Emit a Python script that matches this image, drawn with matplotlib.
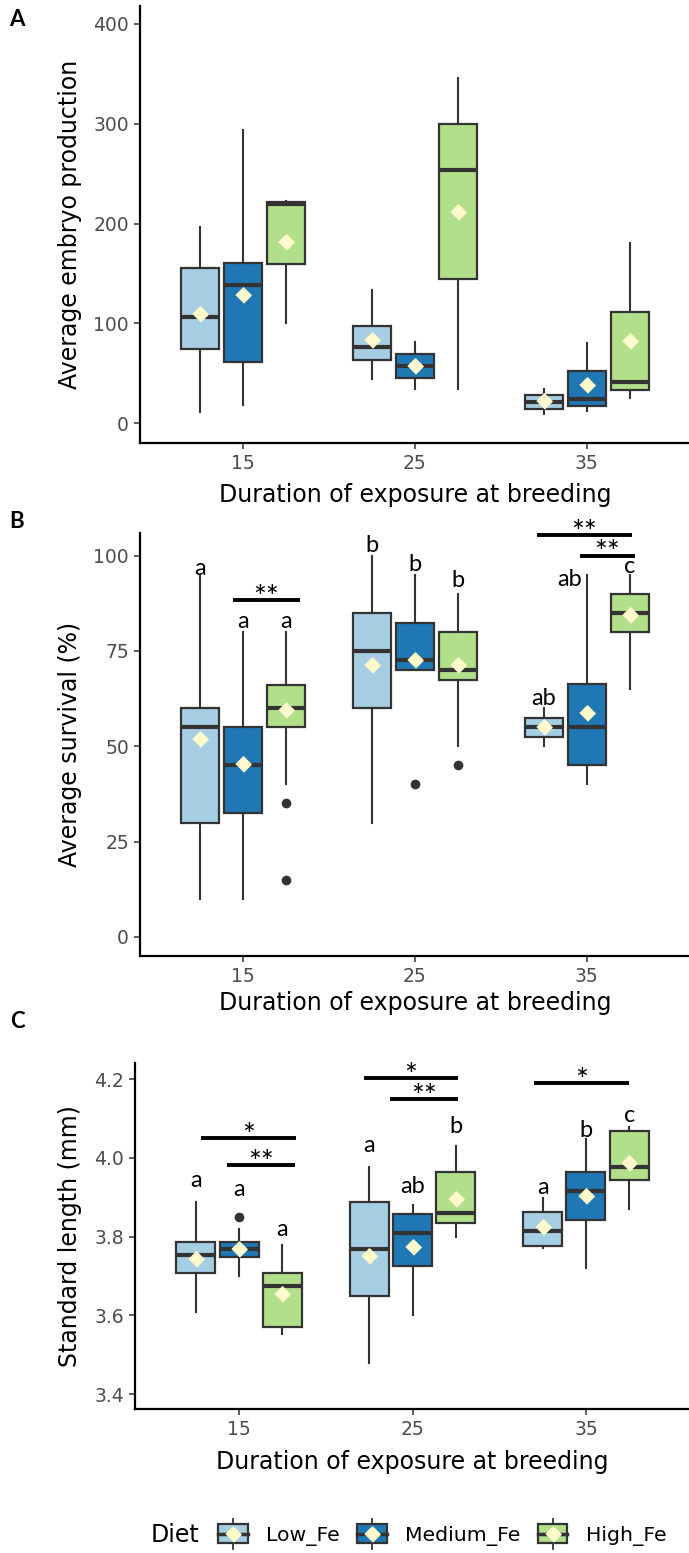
import matplotlib.pyplot as plt
from matplotlib.legend_handler import HandlerBase
from matplotlib.patches import Patch, Rectangle
from matplotlib.lines import Line2D

# ---- data (rows: diet, columns: duration 15 / 25 / 35) ----
durations = ["15", "25", "35"]
diets = ["Low_Fe", "Medium_Fe", "High_Fe"]

# A: average embryo production
embryo_lo = [[11, 44, 9.4], [18, 34, 11.7], [100, 34.5, 25]]
embryo_q1 = [[74, 62.7, 14.4], [61, 45, 17], [159.6, 144, 33]]
embryo_med = [[106, 76.5, 21], [138, 57, 24], [220, 254, 41]]
embryo_q3 = [[155, 97, 28.5], [160, 69, 52], [221.5, 300, 111]]
embryo_hi = [[196.5, 133.5, 34.5], [294, 81, 80], [223, 345.7, 180]]
embryo_mean = [[109, 83, 22], [128, 57, 38.6], [181, 211.6, 82]]
embryo_out = [[[], [], []], [[], [], []], [[], [], []]]

# B: average survival (%)
surv_lo = [[10, 30, 50], [10, 70, 40], [40, 50, 65]]
surv_q1 = [[30, 60, 52.4], [32.4, 70, 45], [55, 67.4, 80]]
surv_med = [[55, 75, 55], [45, 72.5, 55], [60, 70, 85]]
surv_q3 = [[60, 85, 57.4], [55, 82.4, 66.3], [66, 80, 90]]
surv_hi = [[95, 100, 60], [80, 95, 95], [80, 90, 95]]
surv_mean = [[52, 71.4, 55], [45.3, 72.5, 58.7], [59.5, 71.4, 84.4]]
surv_out = [[[], [], []], [[], [40], []], [[35, 15], [45], []]]
surv_letters = [["a", "b", "ab"], ["a", "b", "ab"], ["a", "b", "c"]]
surv_letter_y = [[94.9, 100.8, 60.8], [80.9, 96, 92], [80.9, 91.7, 95.4]]
surv_letter_dx = [[0, 0, 0], [0, 0, -0.1], [0, 0, 0]]
surv_brackets = [(-0.06, 0.33, 88.3, "**"), (1.71, 2.26, 105.4, "**"), (1.96, 2.28, 100.0, "**")]

# C: standard length (mm)
len_lo = [[3.609, 3.48, 3.770], [3.70, 3.60, 3.719], [3.552, 3.80, 3.869]]
len_q1 = [[3.708, 3.649, 3.775], [3.748, 3.726, 3.843], [3.571, 3.834, 3.943]]
len_med = [[3.754, 3.769, 3.814], [3.769, 3.809, 3.915], [3.675, 3.859, 3.977]]
len_q3 = [[3.785, 3.889, 3.863], [3.787, 3.858, 3.965], [3.708, 3.964, 4.067]]
len_hi = [[3.889, 3.978, 3.897], [3.82, 3.879, 4.048], [3.778, 4.029, 4.078]]
len_mean = [[3.743, 3.751, 3.824], [3.769, 3.774, 3.903], [3.654, 3.896, 3.988]]
len_out = [[[], [], []], [[3.849], [], []], [[], [], []]]
len_letters = [["a", "a", "a"], ["a", "ab", "b"], ["a", "b", "c"]]
len_letter_y = [[3.927, 4.014, 3.908], [3.903, 3.912, 4.054], [3.802, 4.064, 4.092]]
len_brackets = [(-0.22, 0.33, 4.05, "*"), (-0.07, 0.32, 3.981, "**"),
                (0.72, 1.26, 4.2025, "*"), (0.87, 1.26, 4.149, "**"),
                (1.70, 2.25, 4.19, "*")]

# ---- style ----
plt.rcParams['font.family'] = ['DejaVu Sans']
fills = ["#A6CEE3", "#1F78B4", "#B2DF8A"]
EDGE = "#333333"
MEAN_C = "#FFF9CC"
DIAMOND = [(-1, 0), (0, 1), (1, 0), (0, -1)]
offsets = [-0.25, 0, 0.25]
BOX_W = 0.225
W, H = 689, 1553


def draw_panel(ax, lo, q1, med, q3, hi, mean, out, ylim, yticks, ylabel, fmt):
    for d in range(3):
        stats = []
        for g in range(3):
            stats.append(dict(whislo=lo[d][g], q1=q1[d][g], med=med[d][g],
                              q3=q3[d][g], whishi=hi[d][g], fliers=out[d][g]))
        pos = [g + offsets[d] for g in range(3)]
        ax.bxp(stats, positions=pos, widths=BOX_W, patch_artist=True,
               showcaps=False, manage_ticks=False,
               boxprops=dict(facecolor=fills[d], edgecolor=EDGE, linewidth=1.6),
               medianprops=dict(color=EDGE, linewidth=3),
               whiskerprops=dict(color=EDGE, linewidth=1.5),
               flierprops=dict(marker='o', markerfacecolor=EDGE,
                               markeredgecolor='none', markersize=7))
        ax.plot(pos, mean[d], ls='none', marker=DIAMOND, ms=11,
                color=MEAN_C, zorder=5)
    ax.set_xlim(-0.6, 2.6)
    ax.set_ylim(*ylim)
    ax.set_xticks(range(3))
    ax.set_xticklabels(durations)
    ax.set_yticks(yticks)
    ax.set_yticklabels([fmt.format(t) for t in yticks])
    for s in ['top', 'right']:
        ax.spines[s].set_visible(False)
    for s in ['left', 'bottom']:
        ax.spines[s].set_linewidth(1.6)
        ax.spines[s].set_color('black')
    ax.tick_params(length=4, width=1.1, color=EDGE, labelcolor='#4D4D4D',
                   labelsize=13.5, pad=4)
    ax.set_xlabel("Duration of exposure at breeding", fontsize=17)
    ax.set_ylabel(ylabel, fontsize=17)


def add_letters(ax, letters, ys, dx=None):
    for d in range(3):
        for g in range(3):
            shift = dx[d][g] if dx else 0
            ax.text(g + offsets[d] + shift, ys[d][g], letters[d][g], ha='center',
                    va='baseline', fontsize=17, family='Lato')


def add_brackets(ax, brackets):
    for x1, x2, y, lab in brackets:
        ax.plot([x1, x2], [y, y], color='black', lw=2.8, solid_capstyle='butt')
        ax.annotate(lab, xy=((x1 + x2) / 2, y), xytext=(0, -5),
                    textcoords='offset points', ha='center', va='baseline',
                    fontsize=22, family='Lato')


def place_labels(ax, fig, top, bottom, left, right, xlab_y):
    ax.xaxis.label.set_va('center')
    ax.yaxis.label.set_va('center')
    ax.xaxis.set_label_coords((left + right) / 2 / W, 1 - xlab_y / H,
                              transform=fig.transFigure)
    ax.yaxis.set_label_coords(70 / W, 1 - (top + bottom) / 2 / H,
                              transform=fig.transFigure)


class BoxKey(HandlerBase):
    def create_artists(self, legend, orig_handle, xdescent, ydescent,
                       width, height, fontsize, trans):
        x0, y0 = -xdescent, -ydescent
        cx, cy = x0 + width / 2, y0 + height / 2
        whisk = Line2D([cx, cx], [y0 - 0.3 * height, y0 + 1.3 * height],
                       color=EDGE, lw=1.3, transform=trans)
        box = Rectangle((x0, y0), width, height, facecolor=orig_handle.get_facecolor(),
                        edgecolor=EDGE, lw=1.6, transform=trans)
        med = Line2D([x0, x0 + width], [cy, cy], color=EDGE, lw=2.5, transform=trans)
        dia = Line2D([cx], [cy], ls='none', marker=DIAMOND, ms=11,
                     color=MEAN_C, transform=trans)
        return [whisk, box, med, dia]


fig = plt.figure(figsize=(W / 100, H / 100), dpi=100)

# panel boxes in pixels: (left, right, top, bottom)
boxA = (140, 690, 6, 443)
boxB = (140, 690, 533, 956)
boxC = (135, 690, 1063, 1409)


def make_ax(box):
    l, r, t, b = box
    return fig.add_axes([l / W, 1 - b / H, (r - l) / W, (b - t) / H])


axA = make_ax(boxA)
draw_panel(axA, embryo_lo, embryo_q1, embryo_med, embryo_q3, embryo_hi,
           embryo_mean, embryo_out, (-20, 418), [0, 100, 200, 300, 400],
           "Average embryo production", "{:.0f}")
place_labels(axA, fig, boxA[2], boxA[3], boxA[0], boxA[1], 495)

axB = make_ax(boxB)
draw_panel(axB, surv_lo, surv_q1, surv_med, surv_q3, surv_hi, surv_mean,
           surv_out, (-5, 105.9), [0, 25, 50, 75, 100],
           "Average survival (%)", "{:.0f}")
add_letters(axB, surv_letters, surv_letter_y, surv_letter_dx)
add_brackets(axB, surv_brackets)
place_labels(axB, fig, boxB[2], boxB[3], boxB[0], boxB[1], 1003)

axC = make_ax(boxC)
draw_panel(axC, len_lo, len_q1, len_med, len_q3, len_hi, len_mean, len_out,
           (3.362, 4.241), [3.4, 3.6, 3.8, 4.0, 4.2],
           "Standard length (mm)", "{:.1f}")
add_letters(axC, len_letters, len_letter_y)
add_brackets(axC, len_brackets)
place_labels(axC, fig, boxC[2], boxC[3], boxC[0], boxC[1], 1462)

for lab, ypix in [("A", 20), ("B", 522), ("C", 1022)]:
    fig.text(17 / W, 1 - ypix / H, lab, fontsize=16, fontweight='bold',
             family='Lato', ha='center', va='center')

# legend
handles = [Patch(facecolor=c, edgecolor=EDGE) for c in fills]
fig.text(151 / W, 1 - 1535 / H, "Diet", fontsize=17, ha='left', va='center')
fig.legend(handles, diets, handler_map={Patch: BoxKey()}, loc='center left',
           bbox_to_anchor=(218 / W, 1 - 1535 / H), ncol=3, frameon=False,
           fontsize=14.7, handlelength=1.45, handleheight=1.05,
           handletextpad=0.9, columnspacing=0.85, borderpad=0, borderaxespad=0)

fig.savefig("out.png", dpi=100)
